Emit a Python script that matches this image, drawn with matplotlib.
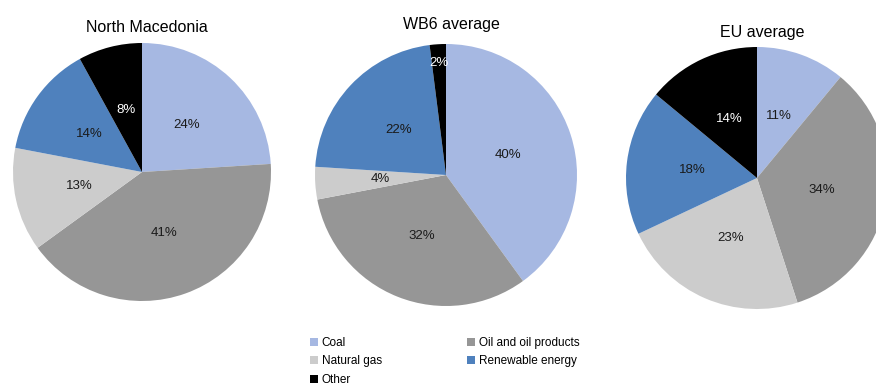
import matplotlib
import matplotlib.pyplot as plt
import numpy as np
from matplotlib.patches import Patch

matplotlib.use("Agg")
plt.rcParams["font.family"] = ["Liberation Sans", "DejaVu Sans"]

# Energy mix shares (%) by source
sources = ["Coal", "Oil and oil products", "Natural gas", "Renewable energy", "Other"]
north_macedonia = [24, 41, 13, 14, 8]
wb6_average = [40, 32, 4, 22, 2]
eu_average = [11, 34, 23, 18, 14]

colors = ["#a6b8e2", "#969696", "#cccccc", "#4f81bd", "#000000"]
label_colors = ["#1a1a1a", "#1a1a1a", "#1a1a1a", "#1a1a1a", "#ffffff"]

W, H = 876, 389
fig = plt.figure(figsize=(W / 100, H / 100), dpi=100)

# (title, values, centre x, centre y, radius, title y) in pixels
panels = [
    ("North Macedonia", north_macedonia, 142, 172, 129, 27),
    ("WB6 average", wb6_average, 446, 175, 131, 24),
    ("EU average", eu_average, 757, 178, 131, 33),
]

for title, values, cx, cy, r, ty in panels:
    ax = fig.add_axes([(cx - r) / W, (H - cy - r) / H, 2 * r / W, 2 * r / H])
    wedges, texts, autotexts = ax.pie(
        values,
        colors=colors,
        startangle=90,
        counterclock=False,
        autopct="%d%%",
        pctdistance=0.5,
        wedgeprops={"linewidth": 0},
        textprops={"fontsize": 9.5},
    )
    for t, c in zip(autotexts, label_colors):
        t.set_color(c)
    # push labels of thin slices out towards the rim
    for w, v, t in zip(wedges, values, autotexts):
        if v < 4:
            ang = np.deg2rad((w.theta1 + w.theta2) / 2)
            t.set_position((0.86 * np.cos(ang), 0.86 * np.sin(ang)))
    ax.set_xlim(-1, 1)
    ax.set_ylim(-1, 1)
    ax.set_aspect("equal")
    ax.axis("off")
    for w in wedges:
        w.set_clip_on(False)
    fig.text(cx / W + 0.006, 1 - ty / H, title, ha="center", va="center", fontsize=11.5)

# legend laid out row by row: Coal | Oil, Natural gas | Renewable, Other
order = [0, 2, 4, 1, 3]
handles = [Patch(facecolor=colors[i], edgecolor="none", label=sources[i]) for i in order]
fig.legend(
    handles=handles,
    ncol=2,
    loc="upper left",
    bbox_to_anchor=(304 / W, 1 - 331 / H),
    frameon=False,
    fontsize=8.5,
    handlelength=0.7,
    handleheight=0.7,
    handletextpad=0.3,
    columnspacing=7.2,
    labelspacing=0.55,
    borderpad=0,
)

fig.savefig("out.png", dpi=100)
